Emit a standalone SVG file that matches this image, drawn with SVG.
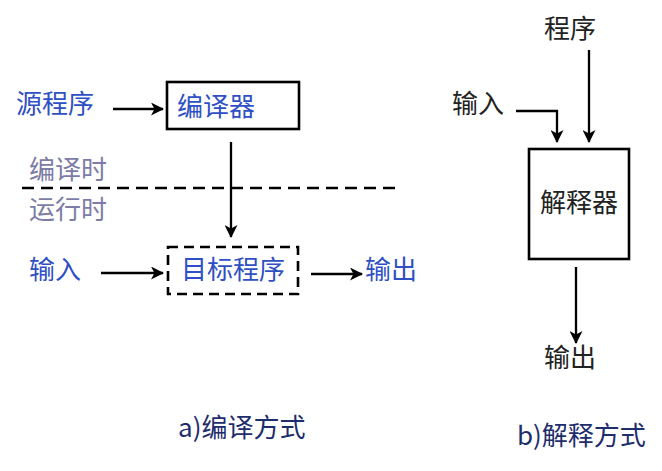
<svg xmlns="http://www.w3.org/2000/svg" width="662" height="471" viewBox="0 0 662 471">
<style>
text{font-family:"Noto Sans CJK SC","Noto Sans",sans-serif;font-size:26px}
.blue{fill:#2f4fc4}
.gray{fill:#7c7ca6}
.navy{fill:#1e2d6b}
.dark{fill:#222}
.box{fill:#fff;stroke:#000;stroke-width:2.6}
.dash{stroke-dasharray:10,6}
.ln{fill:none;stroke:#000;stroke-width:2.3}
</style>
<defs>
<marker id="ah" viewBox="0 0 13 13" refX="12" refY="6.5" markerWidth="13" markerHeight="13" markerUnits="userSpaceOnUse" orient="auto">
<path d="M0,0 L13,6.5 L0,13 L3.5,6.5 z" fill="#000"/>
</marker>
</defs>
<g id="labels">
<text class="blue" x="16" y="113">源程序</text>
<text class="gray" x="29" y="179">编译时</text>
<text class="gray" x="29" y="219">运行时</text>
<text class="blue" x="29" y="279">输入</text>
<text class="blue" x="365" y="279">输出</text>
<text class="dark" x="544" y="38">程序</text>
<text class="dark" x="452" y="113">输入</text>
<text class="dark" x="544" y="367">输出</text>
<text class="navy" x="178" y="437">a)编译方式</text>
<text class="navy" x="517" y="445">b)解释方式</text>
</g>
<g id="compiler">
<rect class="box" x="167" y="82" width="132" height="47"/>
<text class="blue" x="177" y="116">编译器</text>
</g>
<g id="target">
<rect class="box dash" x="168" y="247" width="130" height="47"/>
<text class="blue" x="181" y="279">目标程序</text>
</g>
<g id="connectors">
<line class="ln" x1="22" y1="188" x2="402" y2="188" stroke-width="2.8" stroke-dasharray="12,7"/>
<line class="ln" x1="113" y1="109" x2="163" y2="109" marker-end="url(#ah)"/>
<line class="ln" x1="231" y1="142" x2="231" y2="237" marker-end="url(#ah)"/>
<line class="ln" x1="101" y1="273" x2="163" y2="273" marker-end="url(#ah)"/>
<line class="ln" x1="311" y1="274" x2="362" y2="274" marker-end="url(#ah)"/>
<polyline class="ln" points="516,111 557,111 557,142" marker-end="url(#ah)"/>
<line class="ln" x1="589" y1="50" x2="589" y2="142" marker-end="url(#ah)"/>
<line class="ln" x1="576" y1="267" x2="576" y2="343" marker-end="url(#ah)"/>
</g>
<g id="interpreter">
<rect class="box" x="529" y="149" width="100" height="110"/>
<text class="dark" x="540" y="212">解释器</text>
</g>
</svg>
